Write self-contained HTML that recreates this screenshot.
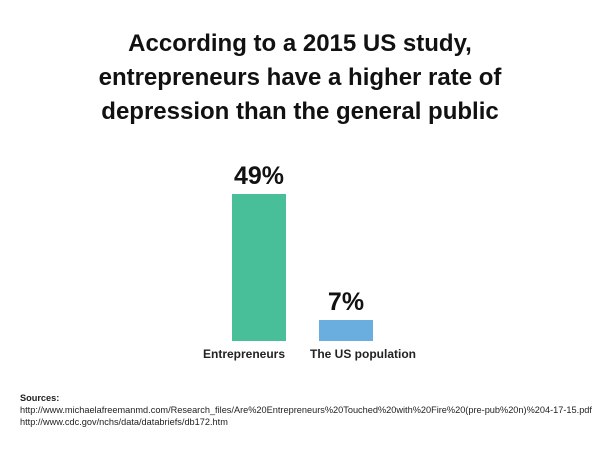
<!DOCTYPE html>
<html><head><meta charset="utf-8"><style>
body{margin:0;width:600px;height:450px;background:#fff;font-family:"Liberation Sans",sans-serif;overflow:hidden}
#title{position:absolute;left:0;top:27px;width:600px;text-align:center;font-size:24px;font-weight:bold;line-height:34px;color:#111}
#src{position:absolute;left:20px;top:392px;font-size:9.2px;line-height:12px;color:#222}
</style></head><body>
<div id="title">According to a 2015 US study,<br>entrepreneurs have a higher rate of<br>depression than the general public</div>
<svg id="chart" width="600" height="450" style="position:absolute;left:0;top:0"></svg>
<div id="src"><b>Sources:</b><br>http://www.michaelafreemanmd.com/Research_files/Are%20Entrepreneurs%20Touched%20with%20Fire%20(pre-pub%20n)%204-17-15.pdf<br>http://www.cdc.gov/nchs/data/databriefs/db172.htm</div>
<script>
const categories=["Entrepreneurs","The US population"];
const values=[49,7];
const colors=["#48bf98","#6aaee0"];
const svg=document.getElementById('chart');
const NS="http://www.w3.org/2000/svg";
const base=341, scale=3;
function y(v){return base-v*scale;}
function xc(i){return 259+i*87;}
values.forEach((v,i)=>{
  const r=document.createElementNS(NS,'rect');
  r.setAttribute('x',xc(i)-27);r.setAttribute('width',54);
  r.setAttribute('y',y(v));r.setAttribute('height',base-y(v));
  r.setAttribute('fill',colors[i]);
  
  
  svg.appendChild(r);
  const t=document.createElementNS(NS,'text');
  t.setAttribute('x',xc(i));t.setAttribute('y',y(v)-10);
  t.setAttribute('text-anchor','middle');t.setAttribute('font-size','25');
  t.setAttribute('font-weight','bold');t.setAttribute('fill','#111');
  t.textContent=v+'%';
  
  
  svg.appendChild(t);
  const c=document.createElementNS(NS,'text');
  c.setAttribute('x',xc(i)+(i===0?-15:17));c.setAttribute('y',358);
  c.setAttribute('text-anchor','middle');c.setAttribute('font-size','12');
  c.setAttribute('font-weight','bold');c.setAttribute('fill','#222');
  c.textContent=categories[i];
  
  
  svg.appendChild(c);
});
</script>
</body></html>
